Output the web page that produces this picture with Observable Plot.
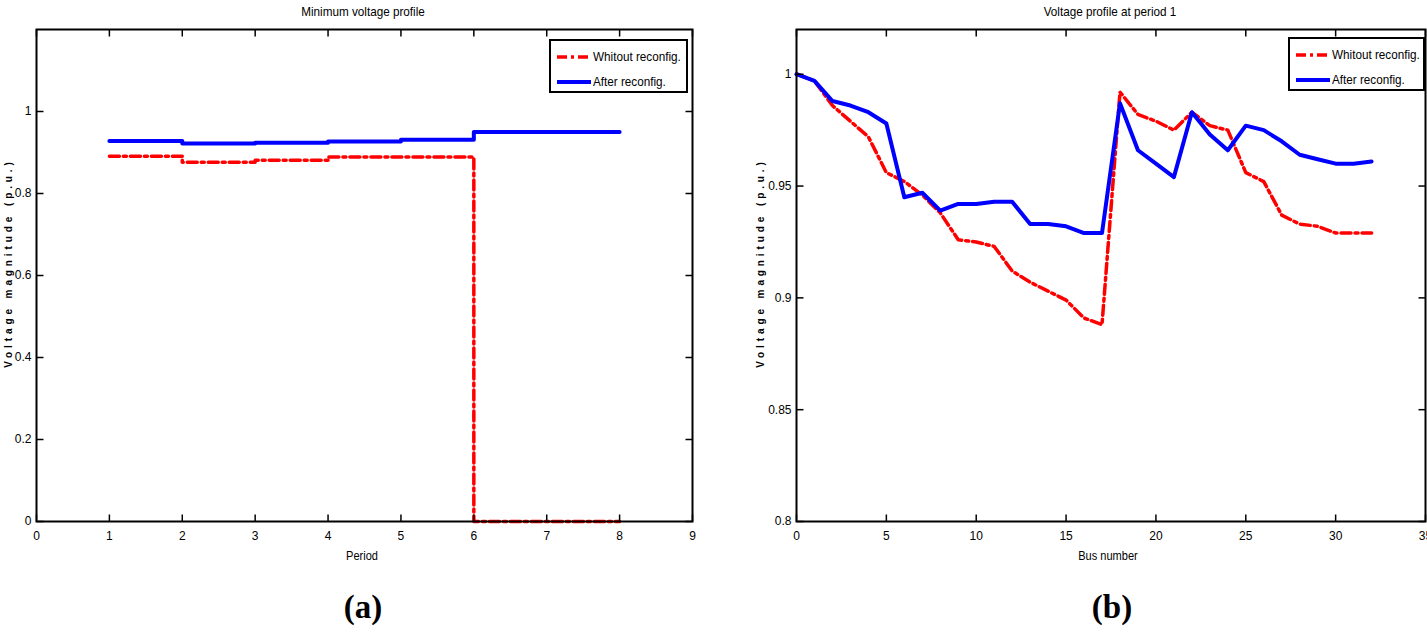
<!DOCTYPE html>
<html>
<head>
<meta charset="utf-8">
<script src="https://cdn.jsdelivr.net/npm/d3@7"></script>
<script src="https://cdn.jsdelivr.net/npm/@observablehq/plot@0.6"></script>
<style>
  html, body { margin: 0; padding: 0; background: #fff; }
  #root { position: relative; width: 1427px; height: 632px; overflow: hidden; background: #fff; font-family: "Liberation Sans", Arial, sans-serif; }
  .abs { position: absolute; white-space: nowrap; line-height: 15px; }
  .title { font-size: 13px; transform: translateX(-50%) scaleX(0.9); }
  .xlab { font-size: 12px; transform: translateX(-50%) scaleX(0.92); }
  .ylab { font-weight: bold; font-size: 10px; letter-spacing: 3.9px; transform: translate(-50%, -50%) rotate(-90deg); }
  .panel { font-family: "Liberation Serif", "Times New Roman", serif; font-weight: bold; font-size: 33px; line-height: 40px; transform: translateX(-50%); }
  .legend { background: #fff; border: 2px solid #000; font-size: 13px; box-sizing: border-box; }
  .legend .row { position: absolute; left: 5px; display: flex; align-items: center; }
  .legend svg { display: block; margin-right: 1px; }
  .legend span { display: inline-block; transform-origin: left center; transform: scaleX(0.9); }
</style>
</head>
<body>
<div id="root"></div>
<script>
// ---- Data ----
const periods = [1, 2, 3, 4, 5, 6, 7, 8];
const minVoltWithout = [0.891, 0.876, 0.881, 0.889, 0.889, 0, 0, 0];
const minVoltAfter = [0.928, 0.922, 0.924, 0.927, 0.931, 0.950, 0.950, 0.950];

const buses = d3.range(0, 33);
const busVoltWithout = [1.000, 0.997, 0.986, 0.979, 0.972, 0.956, 0.952, 0.946, 0.938, 0.926, 0.925, 0.923, 0.912, 0.907, 0.903, 0.899, 0.891, 0.888,
  0.992, 0.982, 0.979, 0.975, 0.983, 0.977, 0.975, 0.956, 0.952, 0.937, 0.933, 0.932, 0.929, 0.929, 0.929];
const busVoltAfter = [1.000, 0.997, 0.988, 0.986, 0.983, 0.978, 0.945, 0.947, 0.939, 0.942, 0.942, 0.943, 0.943, 0.933, 0.933, 0.932, 0.929, 0.929,
  0.987, 0.966, 0.960, 0.954, 0.983, 0.973, 0.966, 0.977, 0.975, 0.970, 0.964, 0.962, 0.960, 0.960, 0.961];

const xTicksA = [0, 1, 2, 3, 4, 5, 6, 7, 8, 9];
const yTicksA = [0, 0.2, 0.4, 0.6, 0.8, 1];
const xTicksB = [0, 5, 10, 15, 20, 25, 30, 35];
const yTicksB = [0.8, 0.85, 0.9, 0.95, 1];

const seriesNames = ["Whitout reconfig.", "After reconfig."];
const titles = ["Minimum voltage profile", "Voltage profile at period 1"];
const xLabels = ["Period", "Bus number"];
const yLabel = "Voltage magnitude (p.u.)";
const panelLabels = ["(a)", "(b)"];

const RED = "#ff0000", BLUE = "#0000ff";
const DASH = "10,4,3,4";
const RED_W = 3.5, BLUE_W = 4;
const TICK = 7;
const H = 580, MT = 29, MB = 59;
const INNER_H = H - MT - MB;

const tableA = periods.map((p, i) => ({p, without: minVoltWithout[i], after: minVoltAfter[i]}));
const tableB = buses.map((b, i) => ({b, without: busVoltWithout[i], after: busVoltAfter[i]}));

// Inward MATLAB-style ticks on all four sides, drawn through the scales.
function frameAxes(xDom, yDom, xt, yt, innerW) {
  const fmt = d => String(d);
  const ky = (yDom[1] - yDom[0]) * TICK / INNER_H;   // tick length in y units
  const kx = (xDom[1] - xDom[0]) * TICK / innerW;    // tick length in x units
  const tk = {stroke: "#000", strokeWidth: 1.5};
  return [
    Plot.link(xt, {x1: d => d, x2: d => d, y1: yDom[0], y2: yDom[0] + ky, ...tk}),
    Plot.link(xt, {x1: d => d, x2: d => d, y1: yDom[1], y2: yDom[1] - ky, ...tk}),
    Plot.link(yt, {y1: d => d, y2: d => d, x1: xDom[0], x2: xDom[0] + kx, ...tk}),
    Plot.link(yt, {y1: d => d, y2: d => d, x1: xDom[1], x2: xDom[1] - kx, ...tk}),
    Plot.axisX(xt, {anchor: "bottom", tickSize: 0, tickPadding: 10, tickFormat: fmt, label: null, fontSize: 12}),
    Plot.axisY(yt, {anchor: "left", tickSize: 0, tickPadding: 5, tickFormat: fmt, label: null, fontSize: 12}),
    Plot.frame({stroke: "#000", strokeWidth: 2})
  ];
}

const common = {
  height: H,
  marginTop: MT,
  marginBottom: MB,
  style: {fontFamily: '"Liberation Sans", Arial, sans-serif', fontSize: "12px", background: "transparent", overflow: "visible"}
};

const WA = 713, MLA = 36, MRA = 21;
const xDomA = [0, 9], yDomA = [0, 1.2];
const plotA = Plot.plot({
  ...common,
  width: WA,
  marginLeft: MLA,
  marginRight: MRA,
  x: {domain: xDomA},
  y: {domain: yDomA},
  marks: [
    Plot.line(tableA, {x: "p", y: "without", curve: "step-after", stroke: RED, strokeWidth: RED_W, strokeDasharray: DASH}),
    Plot.line(tableA, {x: "p", y: "after", curve: "step-after", stroke: BLUE, strokeWidth: BLUE_W}),
    ...frameAxes(xDomA, yDomA, xTicksA, yTicksA, WA - MLA - MRA)
  ]
});

const WB = 687, MLB = 56, MRB = 2;
const xDomB = [0, 35], yDomB = [0.8, 1.02];
const plotB = Plot.plot({
  ...common,
  width: WB,
  marginLeft: MLB,
  marginRight: MRB,
  x: {domain: xDomB},
  y: {domain: yDomB},
  marks: [
    Plot.line(tableB, {x: "b", y: "without", stroke: RED, strokeWidth: RED_W, strokeDasharray: DASH}),
    Plot.line(tableB, {x: "b", y: "after", stroke: BLUE, strokeWidth: BLUE_W}),
    ...frameAxes(xDomB, yDomB, xTicksB, yTicksB, WB - MLB - MRB)
  ]
});

const root = document.getElementById("root");
function place(el, left, top) { el.style.position = "absolute"; el.style.left = left + "px"; el.style.top = top + "px"; root.appendChild(el); return el; }
function text(cls, str, left, top) { const d = document.createElement("div"); d.className = "abs " + cls; d.textContent = str; return place(d, left, top); }

place(plotA, 0, 0);
place(plotB, 740, 0);

// titles
text("title", titles[0], 363, 4);
text("title", titles[1], 1110, 4);
// x labels
text("xlab", xLabels[0], 362, 549);
text("xlab", xLabels[1], 1108, 549);
// y labels
text("ylab", yLabel, 8, 263);
text("ylab", yLabel, 760, 263);
// panel labels
text("panel", panelLabels[0], 363, 587);
text("panel", panelLabels[1], 1112, 587);

// legends
function legend(left, top, width) {
  const box = document.createElement("div");
  box.className = "abs legend";
  box.style.width = width + "px";
  box.style.height = "54px";
  const styles = [{stroke: RED, dash: DASH, w: RED_W}, {stroke: BLUE, dash: null, w: BLUE_W}];
  seriesNames.forEach((name, i) => {
    const row = document.createElement("div");
    row.className = "row";
    row.style.top = (i === 0 ? 8 : 33) + "px";
    row.innerHTML = `<svg width="36" height="10"><line x1="1" x2="35" y1="5" y2="5" stroke="${styles[i].stroke}" stroke-width="${styles[i].w}" ${styles[i].dash ? `stroke-dasharray="${styles[i].dash}"` : ""}/></svg><span>${name}</span>`;
    box.appendChild(row);
  });
  return place(box, left, top);
}
legend(549, 39, 139);
legend(1288, 37, 137);
</script>
</body>
</html>
